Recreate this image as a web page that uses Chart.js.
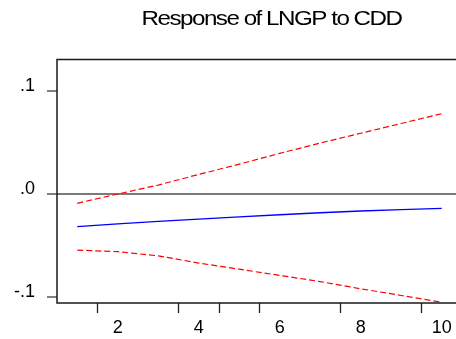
<!DOCTYPE html>
<html>
<head>
<meta charset="utf-8">
<script src="https://cdn.jsdelivr.net/npm/chart.js@4"></script>
<style>
  html, body { margin: 0; padding: 0; background: #fff; overflow: hidden; }
  #wrap { width: 456px; height: 339px; overflow: hidden; }
  canvas { display: block; }
</style>
</head>
<body>
<div id="wrap"><canvas id="irfChart" width="470" height="339"></canvas></div>
<script>
// 충격반응 - Response of LNGP to CDD
const titleText = 'Response of LNGP to CDD';
const periods = [1, 2, 3, 4, 5, 6, 7, 8, 9, 10];
const response = [-0.0317, -0.0290, -0.0266, -0.0243, -0.0222, -0.0201, -0.0182, -0.0165, -0.0151, -0.0139];
const upperBand = [-0.0090, 0.0000, 0.0087, 0.0190, 0.0290, 0.0395, 0.0495, 0.0590, 0.0685, 0.0780];
const lowerBand = [-0.0544, -0.0560, -0.0600, -0.0670, -0.0730, -0.0790, -0.0850, -0.0920, -0.0985, -0.1050];
const yTickValues = [-0.1, 0, 0.1];
const yTickLabels = ['-.1', '.0', '.1'];
const xLabelValues = [2, 4, 6, 8, 10];
const xMarkValues = [1.5, 3.5, 4.5, 5.5, 7.5, 9.5];

const toPoints = arr => arr.map((v, i) => ({ x: periods[i], y: v }));

// 제목 + 테두리 그리기
const framePlugin = {
  id: 'framePlugin',
  afterDraw(chart) {
    const c = chart.ctx;
    const a = chart.chartArea;
    c.save();
    c.strokeStyle = '#1a1a1a';
    c.lineWidth = 1.5;
    c.beginPath();
    c.moveTo(a.right + 5, a.top);
    c.lineTo(a.left, a.top);
    c.lineTo(a.left, a.bottom);
    c.lineTo(a.right + 5, a.bottom);
    c.stroke();

    c.fillStyle = '#000';
    c.font = '19.5px "Liberation Sans", Arial, sans-serif';
    c.letterSpacing = '-1.2px';
    c.textAlign = 'center';
    c.textBaseline = 'alphabetic';
    c.translate(271.5, 25);
    c.scale(1.24, 1);
    c.fillText(titleText, 0, 0);
    c.restore();
  }
};

const ctx = document.getElementById('irfChart');
new Chart(ctx, {
  type: 'line',
  data: {
    datasets: [
      {
        label: 'Response',
        data: toPoints(response),
        borderColor: '#0000ff',
        borderWidth: 1.3,
        pointRadius: 0,
        tension: 0,
        fill: false
      },
      {
        label: 'Upper',
        data: toPoints(upperBand),
        borderColor: '#ff0000',
        borderWidth: 1.2,
        borderDash: [6, 3],
        pointRadius: 0,
        tension: 0,
        fill: false
      },
      {
        label: 'Lower',
        data: toPoints(lowerBand),
        borderColor: '#ff0000',
        borderWidth: 1.2,
        borderDash: [6, 3],
        pointRadius: 0,
        tension: 0,
        fill: false
      }
    ]
  },
  options: {
    responsive: false,
    animation: false,
    layout: { padding: { top: 59.5, left: 0, right: 8, bottom: 0 } },
    plugins: {
      legend: { display: false },
      tooltip: { enabled: false },
      title: { display: false }
    },
    scales: {
      x: {
        type: 'linear',
        min: 0.5,
        max: 10.5,
        afterFit: s => { s.height = 36; },
        afterBuildTicks: s => {
          s.ticks = xMarkValues.concat(xLabelValues).sort((a, b) => a - b).map(v => ({ value: v }));
        },
        border: { display: false },
        grid: {
          drawOnChartArea: false,
          drawTicks: true,
          tickLength: 10,
          tickWidth: 1.3,
          tickColor: c => (c.tick && xMarkValues.includes(c.tick.value)) ? '#222' : 'rgba(0,0,0,0)'
        },
        ticks: {
          autoSkip: false,
          maxRotation: 0,
          padding: 4,
          color: '#000',
          font: { family: '"Liberation Sans", Arial, sans-serif', size: 18 },
          callback: v => xLabelValues.includes(v) ? String(v) : ''
        }
      },
      y: {
        min: -0.1058,
        max: 0.1306,
        afterFit: s => { s.width = 57; },
        afterBuildTicks: s => { s.ticks = yTickValues.map(v => ({ value: v })); },
        border: { display: false },
        grid: {
          drawTicks: true,
          tickLength: 10,
          tickWidth: 2,
          tickColor: '#808080',
          lineWidth: 2,
          color: c => (c.tick && c.tick.value === 0) ? '#7a7a7a' : 'rgba(0,0,0,0)'
        },
        ticks: {
          padding: 12,
          labelOffset: -5,
          color: '#000',
          font: { family: '"Liberation Sans", Arial, sans-serif', size: 18 },
          callback: v => {
            const i = yTickValues.indexOf(v);
            return i >= 0 ? yTickLabels[i] : '';
          }
        }
      }
    }
  },
  plugins: [framePlugin]
});
</script>
</body>
</html>
